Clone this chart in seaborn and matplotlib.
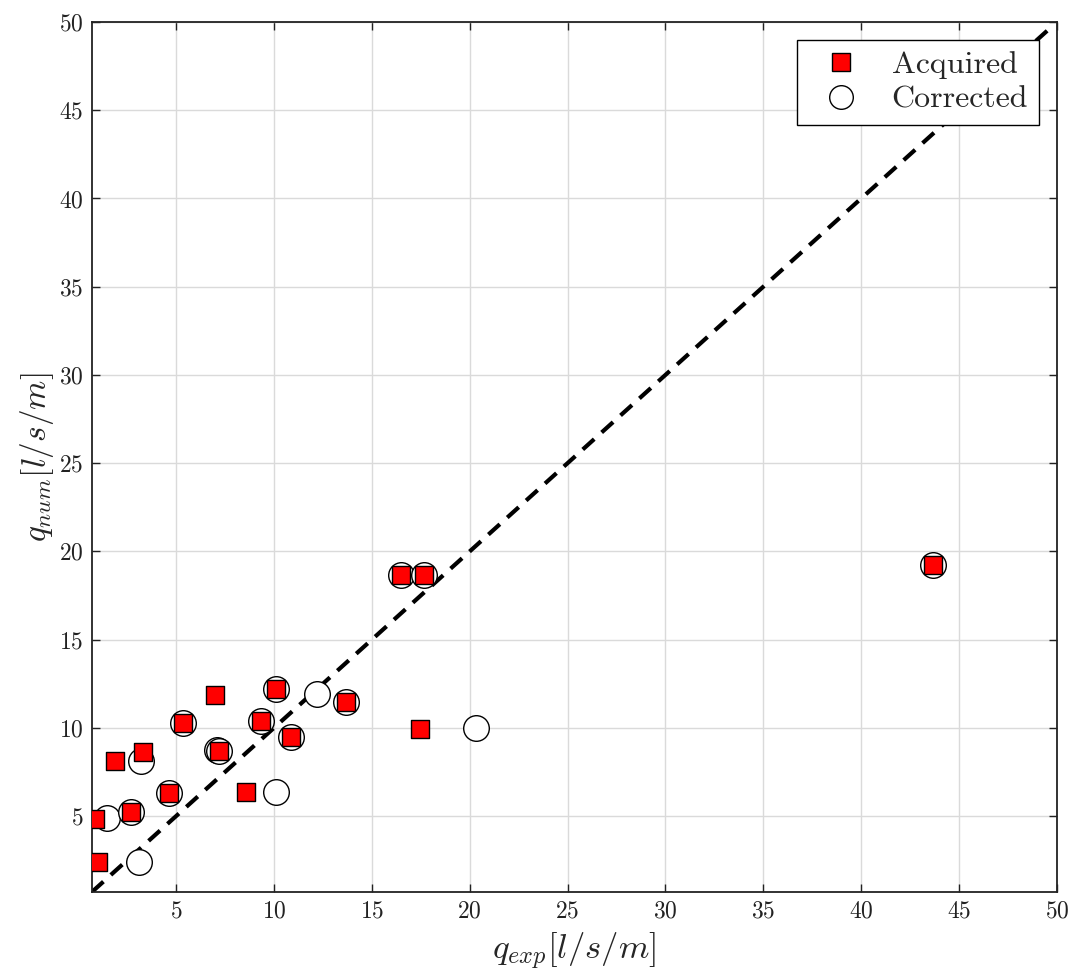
import matplotlib
matplotlib.use("Agg")
import matplotlib.pyplot as plt
import seaborn as sns
import pandas as pd
from matplotlib.lines import Line2D

# measured discharge vs numerical discharge [l/s/m]
acq_exp = [0.87, 1.02, 1.89, 3.32, 2.70, 4.64, 5.36, 6.99, 7.19, 8.57,
           9.34, 10.1, 10.87, 13.67, 16.48, 17.65, 17.45, 43.67]
acq_num = [4.83, 2.39, 8.12, 8.64, 5.23, 6.31, 10.28, 11.88, 8.69, 6.36,
           10.40, 12.2, 9.49, 11.48, 18.65, 18.65, 9.94, 19.22]

cor_exp = [1.48, 3.11, 3.21, 2.70, 4.64, 5.36, 7.08, 7.19, 10.1, 9.34,
           10.1, 10.87, 12.2, 13.67, 16.48, 17.65, 20.3, 43.67]
cor_num = [4.89, 2.39, 8.12, 5.23, 6.31, 10.28, 8.72, 8.66, 6.36, 10.40,
           12.2, 9.49, 11.90, 11.48, 18.65, 18.65, 9.98, 19.22]

diag_range = [0.7, 49.5]
ticks = list(range(5, 55, 5))

sns.set_theme(style="ticks")
plt.rcParams["font.family"] = ["cmr10", "DejaVu Serif"]
plt.rcParams["mathtext.fontset"] = "cm"
plt.rcParams["axes.formatter.use_mathtext"] = True

df_acq = pd.DataFrame({"x": acq_exp, "y": acq_num})
df_cor = pd.DataFrame({"x": cor_exp, "y": cor_num})

fig = plt.figure(figsize=(10.73, 9.73), dpi=100)
ax = fig.add_axes([0.0857, 0.0833, 0.8993, 0.8941])

ax.grid(True, color="#dadada", linewidth=1.0, zorder=0)
ax.set_axisbelow(True)

ax.plot(diag_range, diag_range, color="black", linewidth=3.0,
        dashes=(3.7, 2.4), zorder=2)

sns.scatterplot(data=df_cor, x="x", y="y", ax=ax, marker="o", s=340,
                facecolor="white", edgecolor="black", linewidth=1.0, zorder=3)
sns.scatterplot(data=df_acq, x="x", y="y", ax=ax, marker="s", s=175,
                color="#ff0000", edgecolor="black", linewidth=1.0, zorder=4)

ax.set_xlim(0.7, 50)
ax.set_ylim(0.7, 50)
ax.set_xticks(ticks)
ax.set_yticks(ticks)
ax.tick_params(direction="in", top=True, right=True, length=6, width=1.0,
               labelsize=17, pad=6, color="#222222", labelcolor="#222222")
for sp in ax.spines.values():
    sp.set_linewidth(1.3)
    sp.set_color("#222222")

ax.set_xlabel(r"$q_{exp}[l/s/m]$", fontsize=25, labelpad=6)
ax.set_ylabel(r"$q_{num}[l/s/m]$", fontsize=24, labelpad=2)

handles = [
    Line2D([], [], linestyle="none", marker="s", markersize=13,
           markerfacecolor="#ff0000", markeredgecolor="black"),
    Line2D([], [], linestyle="none", marker="o", markersize=17,
           markerfacecolor="white", markeredgecolor="black"),
]
leg = ax.legend(handles, ["Acquired", "Corrected"], loc="upper right",
                fontsize=23, frameon=True, fancybox=False, framealpha=1,
                edgecolor="black", borderaxespad=0.55, handletextpad=0.6,
                labelspacing=0.2, borderpad=0.35)
leg.get_frame().set_linewidth(1.0)

fig.savefig("out.png", dpi=100)
